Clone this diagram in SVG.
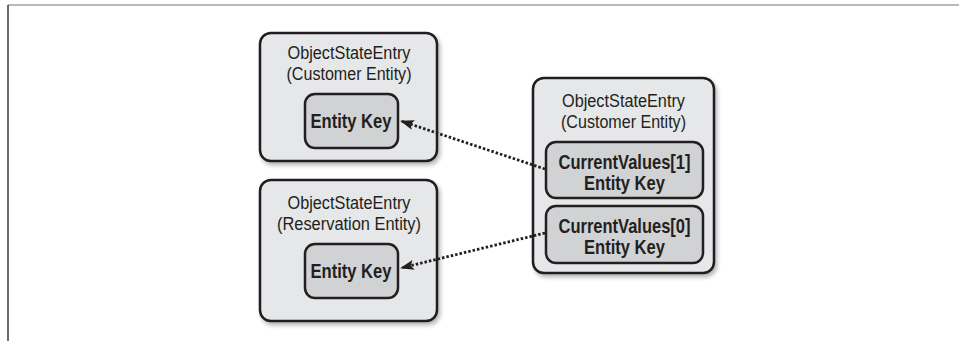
<svg xmlns="http://www.w3.org/2000/svg" width="959" height="341" viewBox="0 0 959 341">
  <defs>
    <filter id="shadow" x="-10%" y="-10%" width="125%" height="125%">
      <feGaussianBlur in="SourceAlpha" stdDeviation="2"/>
      <feOffset dx="2" dy="3" result="b"/>
      <feComponentTransfer><feFuncA type="linear" slope="0.3"/></feComponentTransfer>
      <feMerge><feMergeNode/><feMergeNode in="SourceGraphic"/></feMerge>
    </filter>
    <marker id="arrow" viewBox="0 0 14 10" refX="13" refY="5" markerWidth="14" markerHeight="10" markerUnits="userSpaceOnUse" orient="auto">
      <path d="M0,0 L14,5 L0,10 L3,5 Z" fill="#231f20"/>
    </marker>
    <style>
      .outer { fill: #e6e7e8; stroke: #231f20; stroke-width: 2.5; }
      .inner { fill: #d1d2d4; stroke: #231f20; stroke-width: 2.5; }
      .reg { font-family: "Liberation Sans", Arial, sans-serif; font-size: 17.5px; fill: #231f20; text-anchor: middle; }
      .bold { font-family: "Liberation Sans", Arial, sans-serif; font-size: 21px; font-weight: bold; fill: #231f20; text-anchor: middle; }
      .link { fill: none; stroke: #231f20; stroke-width: 2.8; stroke-dasharray: 2.5 2; marker-end: url(#arrow); }
    </style>
  </defs>

  <rect width="959" height="341" fill="#ffffff"/>
  <!-- frame -->
  <line x1="8" y1="5" x2="959" y2="5" stroke="#a0a0a0" stroke-width="1.5"/>
  <line x1="8" y1="5" x2="8" y2="341" stroke="#3a3a3a" stroke-width="1.5"/>

  <g id="customer-entry">
    <rect class="outer" x="260" y="33" width="177" height="128" rx="11" filter="url(#shadow)"/>
    <text class="reg" x="349" y="59" textLength="123" lengthAdjust="spacingAndGlyphs">ObjectStateEntry</text>
    <text class="reg" x="349" y="80" textLength="125" lengthAdjust="spacingAndGlyphs">(Customer Entity)</text>
    <g id="customer-key">
      <rect class="inner" x="305" y="94" width="93" height="54" rx="10"/>
      <text class="bold" x="351" y="128" textLength="81" lengthAdjust="spacingAndGlyphs">Entity Key</text>
    </g>
  </g>

  <g id="reservation-entry">
    <rect class="outer" x="260" y="180" width="177" height="141" rx="11" filter="url(#shadow)"/>
    <text class="reg" x="349" y="209" textLength="123" lengthAdjust="spacingAndGlyphs">ObjectStateEntry</text>
    <text class="reg" x="349" y="230" textLength="144" lengthAdjust="spacingAndGlyphs">(Reservation Entity)</text>
    <g id="reservation-key">
      <rect class="inner" x="305" y="244" width="93" height="54" rx="10"/>
      <text class="bold" x="351" y="278" textLength="81" lengthAdjust="spacingAndGlyphs">Entity Key</text>
    </g>
  </g>

  <g id="related-entry">
    <rect class="outer" x="533" y="78" width="181" height="195" rx="11" filter="url(#shadow)"/>
    <text class="reg" x="623.5" y="107" textLength="123" lengthAdjust="spacingAndGlyphs">ObjectStateEntry</text>
    <text class="reg" x="623.5" y="128" textLength="125" lengthAdjust="spacingAndGlyphs">(Customer Entity)</text>
    <g id="current-values-1">
      <rect class="inner" x="546" y="142" width="157" height="56" rx="10"/>
      <text class="bold" x="624.5" y="169" textLength="132" lengthAdjust="spacingAndGlyphs">CurrentValues[1]</text>
      <text class="bold" x="624.5" y="190" textLength="81" lengthAdjust="spacingAndGlyphs">Entity Key</text>
    </g>
    <g id="current-values-0">
      <rect class="inner" x="546" y="206" width="157" height="57" rx="10"/>
      <text class="bold" x="624.5" y="233" textLength="132" lengthAdjust="spacingAndGlyphs">CurrentValues[0]</text>
      <text class="bold" x="624.5" y="254" textLength="81" lengthAdjust="spacingAndGlyphs">Entity Key</text>
    </g>
  </g>

  <g id="connectors">
    <path class="link" d="M545,169 L401,121"/>
    <path class="link" d="M545,233 L401,268"/>
  </g>
</svg>
